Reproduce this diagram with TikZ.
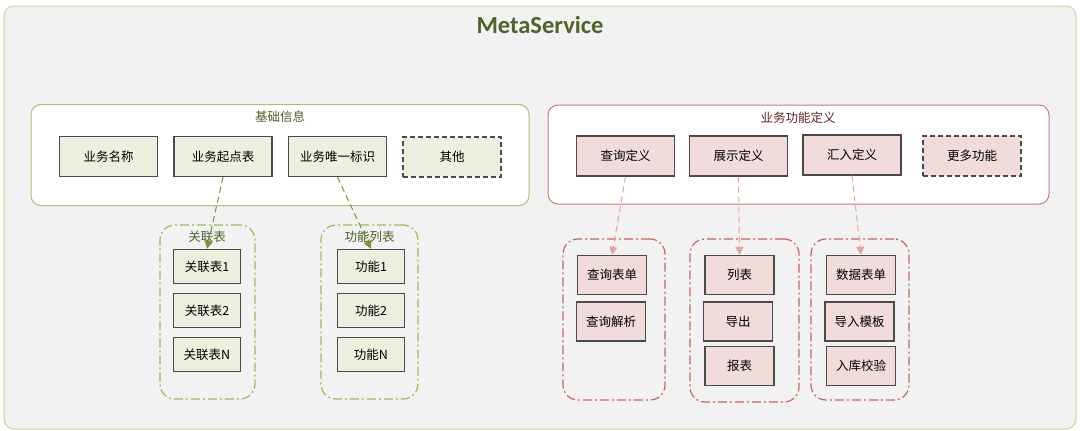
\documentclass[tikz,border=0pt]{standalone}
\usepackage{fontspec}
\setmainfont{Carlito}
\newfontfamily\cjk{Noto Sans CJK SC}
\usetikzlibrary{arrows.meta}
\definecolor{outerfill}{HTML}{F2F2F2}
\definecolor{outerline}{HTML}{C3D69B}
\definecolor{gpanelline}{HTML}{A9C46E}
\definecolor{rpanelline}{HTML}{D07A76}
\definecolor{gfill}{HTML}{EBF1DE}
\definecolor{rfill}{HTML}{F2DCDB}
\definecolor{boxline}{HTML}{4A4A4A}
\definecolor{garrowc}{HTML}{77933C}
\definecolor{rarrowc}{HTML}{E3A3A1}
\definecolor{ggroupline}{HTML}{9BBB59}
\definecolor{rgroupline}{HTML}{CC625E}
\definecolor{gtext}{HTML}{4F6228}
\definecolor{rtext}{HTML}{632423}
\begin{document}
\begin{tikzpicture}[x=1pt,y=-1pt,
  cjkfont/.style={font=\cjk\fontsize{12.5}{14}\selectfont},
  outerbox/.style={draw=outerline,fill=outerfill,line width=1pt,rounded corners=10pt,inner sep=0pt},
  gpanel/.style={draw=gpanelline,fill=white,line width=1pt,rounded corners=10pt,inner sep=0pt},
  rpanel/.style={draw=rpanelline,fill=white,line width=1pt,rounded corners=10pt,inner sep=0pt},
  ggroup/.style={draw=ggroupline,line width=1.2pt,rounded corners=15pt,inner sep=0pt,dash pattern=on 9pt off 3pt on 2pt off 3pt},
  rgroup/.style={draw=rgroupline,line width=1.2pt,rounded corners=15pt,inner sep=0pt,dash pattern=on 9pt off 3pt on 2pt off 3pt},
  gbox/.style={cjkfont,draw=boxline,fill=gfill,line width=1.3pt,minimum width=98pt,minimum height=40pt,inner sep=0pt},
  rbox/.style={cjkfont,draw=boxline,fill=rfill,line width=1.3pt,minimum width=98pt,minimum height=40pt,inner sep=0pt},
  gsbox/.style={gbox,minimum width=67pt,minimum height=34pt},
  rsbox/.style={rbox,minimum width=69pt,minimum height=39pt},
  dashbox/.style={dash pattern=on 5pt off 3pt},
  gtitle/.style={cjkfont,text=gtext},
  rtitle/.style={cjkfont,text=rtext},
  garrow/.style={draw=garrowc,line width=1pt,dash pattern=on 6pt off 4pt,-{Triangle[length=8pt,width=8pt,fill=garrowc]}},
  rarrow/.style={draw=rarrowc,line width=1pt,dash pattern=on 6pt off 4pt,-{Triangle[length=8pt,width=8pt,fill=rarrowc]}},
]
\useasboundingbox (0,0) rectangle (1080,431);
% outer frame
\node[outerbox,minimum width=1072pt,minimum height=423pt] (outer) at (540,217.5) {};
\node[font=\fontsize{24.5}{28}\selectfont\bfseries,text=gtext] (title) at (540,25) {MetaService};

% panels
\node[gpanel,minimum width=498pt,minimum height=101pt] (basep) at (280,155) {};
\node[gtitle] (baset) at (280,117) {基础信息};
\node[rpanel,minimum width=501pt,minimum height=99pt] (funcp) at (798.5,154.5) {};
\node[rtitle] (funct) at (798,117.5) {业务功能定义};

% groups
\node[ggroup,minimum width=95pt,minimum height=174pt] (glk) at (207.5,312) {};
\node[gtitle] (glkt) at (207,237) {关联表};
\node[ggroup,minimum width=97pt,minimum height=174pt] (ggn) at (369.5,312) {};
\node[gtitle] (ggnt) at (369.5,237) {功能列表};
\node[rgroup,minimum width=102pt,minimum height=161pt] (rq) at (614,319.5) {};
\node[rgroup,minimum width=109pt,minimum height=163pt] (rs) at (744.5,320.5) {};
\node[rgroup,minimum width=98pt,minimum height=161pt] (rh) at (860,319.5) {};

% base info boxes
\node[gbox] (ywmc) at (108.5,156.5) {业务名称};
\node[gbox] (ywqd) at (223,156.5) {业务起点表};
\node[gbox] (ywwy) at (337.5,156.5) {业务唯一标识};
\node[gbox,dashbox] (qt) at (452,157) {其他};

% function boxes
\node[rbox] (cxdy) at (625.5,156) {查询定义};
\node[rbox] (zsdy) at (738.5,156) {展示定义};
\node[rbox] (hrdy) at (852,155) {汇入定义};
\node[rbox,dashbox] (gdgn) at (972,156) {更多功能};

% green sub boxes
\node[gsbox] (glk1) at (207,266.5) {关联表1};
\node[gsbox] (glk2) at (207,310.5) {关联表2};
\node[gsbox] (glkn) at (207,354.5) {关联表N};
\node[gsbox] (ggn1) at (371,266.5) {功能1};
\node[gsbox] (ggn2) at (371,310.5) {功能2};
\node[gsbox] (ggnn) at (371,354.5) {功能N};

% red sub boxes
\node[rsbox] (cxbd) at (612,275) {查询表单};
\node[rsbox] (cxjx) at (611,321.5) {查询解析};
\node[rsbox] (lb) at (739.5,275) {列表};
\node[rsbox] (dc) at (738,321.5) {导出};
\node[rsbox] (bb) at (739.5,366) {报表};
\node[rsbox] (sjbd) at (861,275) {数据表单};
\node[rsbox] (drmb) at (859.5,321.5) {导入模板};
\node[rsbox] (rkjy) at (861,366) {入库校验};

% connectors
\draw[garrow] (ywqd.south) -- (glk1.north);
\draw[garrow] (ywwy.south) -- (ggn1.north);
\draw[rarrow] (cxdy.south) -- (cxbd.north);
\draw[rarrow] (zsdy.south) -- (lb.north);
\draw[rarrow] (hrdy.south) -- (sjbd.north);
\end{tikzpicture}
\end{document}
